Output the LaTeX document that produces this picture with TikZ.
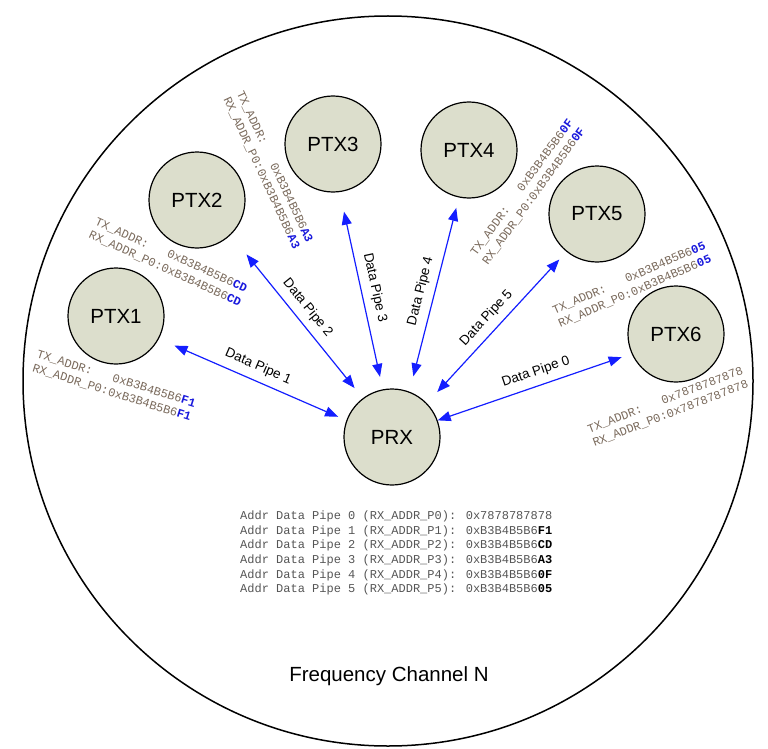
\documentclass[tikz,border=0pt]{standalone}
\usepackage{fontspec}
\setmainfont{Liberation Sans}
\newfontfamily\addrfont{Liberation Mono}
\usetikzlibrary{arrows.meta}
\definecolor{nodefill}{RGB}{220,222,204}
\definecolor{pipeblue}{RGB}{20,30,255}
\definecolor{addrgray}{RGB}{122,106,92}
\definecolor{tablegray}{RGB}{85,85,85}
\definecolor{sfxblue}{RGB}{25,25,220}
\newcommand\sfx[1]{\textcolor{sfxblue}{\bfseries #1}}
\newcommand\tsfx[1]{\textcolor{black}{\bfseries #1}}
\begin{document}
\begin{tikzpicture}[x=1pt,y=-1pt,
  station/.style={circle, draw=black, line width=1.2pt, fill=nodefill, minimum size=96pt, inner sep=0pt, font=\fontsize{20.5}{24}\selectfont},
  pipe/.style={draw=pipeblue, line width=1.2pt, {Triangle[length=13pt,width=10pt]}-{Triangle[length=13pt,width=10pt]}},
  pipelbl/.style={sloped, above=5pt, inner sep=2pt, font=\fontsize{13.5}{16}\selectfont, text=black},
  addr/.style={align=left, inner sep=0pt, text=addrgray, font=\addrfont\fontsize{12}{14.5}\selectfont},
  tline/.style={anchor=base west, inner sep=0pt, text=tablegray, font=\addrfont\fontsize{12}{14.5}\selectfont},
]
\useasboundingbox (0,0) rectangle (768,749);
\node[circle, draw=black, line width=1.5pt, minimum size=730pt, inner sep=0pt] (channel) at (388,381) {};

\node[station] (ptx1) at (116,316) {PTX1};
\node[station] (ptx2) at (197,200) {PTX2};
\node[station] (ptx3) at (333,144) {PTX3};
\node[station] (ptx4) at (469,150) {PTX4};
\node[station] (ptx5) at (597,214) {PTX5};
\node[station] (ptx6) at (676,334) {PTX6};
\node[station] (prx) at (392,437) {PRX};

\draw[pipe, shorten <=17pt, shorten >=9pt] (ptx1.-28) -- node[pipelbl]{Data Pipe 1} (prx.160);
\draw[pipe, shorten <=25pt, shorten >=13pt] (ptx2.-46) -- node[pipelbl]{Data Pipe 2} (prx.127);
\draw[pipe, shorten <=20pt, shorten >=12.7pt] (ptx3.-82) -- node[pipelbl]{Data Pipe 3} (prx.101);
\draw[pipe, shorten <=10.7pt, shorten >=15.8pt] (ptx4.-102) -- node[pipelbl]{Data Pipe 4} (prx.69);
\draw[pipe, shorten <=10.5pt, shorten >=15.2pt] (ptx5.-129) -- node[pipelbl]{Data Pipe 5} (prx.44);
\draw[pipe, shorten <=10.5pt] (ptx6.-156) -- node[pipelbl, pos=0.47]{Data Pipe 0} (prx.20);

\node[addr, rotate=-17.5] (a1) at (114,386) {TX\_ADDR:\hphantom{RX\_}0xB3B4B5B6\sfx{F1}\\RX\_ADDR\_P0:0xB3B4B5B6\sfx{F1}};
\node[addr, rotate=-24.5] (a2) at (168,262) {TX\_ADDR:\hphantom{RX\_}0xB3B4B5B6\sfx{CD}\\RX\_ADDR\_P0:0xB3B4B5B6\sfx{CD}};
\node[addr, rotate=-65] (a3) at (268,170) {TX\_ADDR:\hphantom{RX\_}0xB3B4B5B6\sfx{A3}\\RX\_ADDR\_P0:0xB3B4B5B6\sfx{A3}};
\node[addr, rotate=54] (a4) at (528,192) {TX\_ADDR:\hphantom{RX\_}0xB3B4B5B6\sfx{0F}\\RX\_ADDR\_P0:0xB3B4B5B6\sfx{0F}};
\node[addr, rotate=23.5] (a5) at (632,285) {TX\_ADDR:\hphantom{RX\_}0xB3B4B5B6\sfx{05}\\RX\_ADDR\_P0:0xB3B4B5B6\sfx{05}};
\node[addr, rotate=21] (a6) at (668,407) {TX\_ADDR:\hphantom{RX\_}0x7878787878\\RX\_ADDR\_P0:0x7878787878};

\node[tline] (t0) at (240,519) {Addr Data Pipe 0 (RX\_ADDR\_P0): 0x7878787878};
\node[tline] (t1) at (240,534) {Addr Data Pipe 1 (RX\_ADDR\_P1): 0xB3B4B5B6\tsfx{F1}};
\node[tline] (t2) at (240,548.5) {Addr Data Pipe 2 (RX\_ADDR\_P2): 0xB3B4B5B6\tsfx{CD}};
\node[tline] (t3) at (240,563.5) {Addr Data Pipe 3 (RX\_ADDR\_P3): 0xB3B4B5B6\tsfx{A3}};
\node[tline] (t4) at (240,578) {Addr Data Pipe 4 (RX\_ADDR\_P4): 0xB3B4B5B6\tsfx{0F}};
\node[tline] (t5) at (240,592.7) {Addr Data Pipe 5 (RX\_ADDR\_P5): 0xB3B4B5B6\tsfx{05}};

\node[font=\fontsize{20.5}{24}\selectfont] (chlabel) at (389,676) {Frequency Channel N};
\end{tikzpicture}
\end{document}
